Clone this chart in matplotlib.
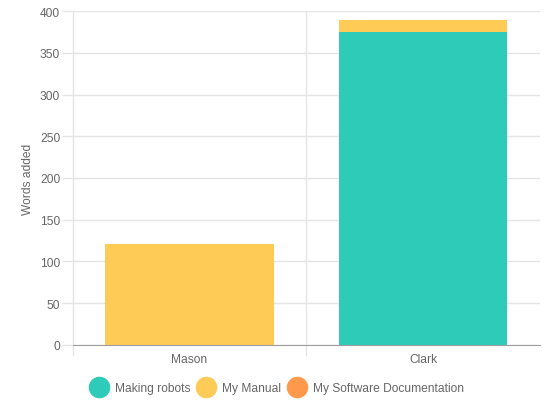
import matplotlib.pyplot as plt
import numpy as np
from matplotlib.lines import Line2D

# data
authors = ['Mason', 'Clark']
series_names = ['Making robots', 'My Manual', 'My Software Documentation']
making_robots = [0, 375]
my_manual = [121, 15]
software_docs = [0, 0]
series_colors = ['#2ECBB8', '#FECB57', '#FF9A4D']

plt.rcParams['font.family'] = ['Liberation Sans', 'DejaVu Sans']
text_color = '#666666'
grid_color = '#E5E5E5'
fs = 8.64  # 12px at 100 dpi

W, H = 546, 406
fig = plt.figure(figsize=(W / 100, H / 100), dpi=100)
left, right, top, bottom = 72.7, 540, 12.3, 345.7
ax = fig.add_axes([left / W, 1 - bottom / H, (right - left) / W, (bottom - top) / H])

x = np.arange(len(authors))
base = np.zeros(len(authors))
for vals, color in zip([making_robots, my_manual, software_docs], series_colors):
    ax.bar(x, vals, width=0.72, bottom=base, color=color, zorder=2)
    base = base + np.array(vals)

ax.set_xlim(-0.5, len(authors) - 0.5)
ax.set_ylim(0, 400)
ax.set_yticks(np.arange(0, 401, 50))
ax.set_xticks(x)
ax.set_xticklabels(authors)

# horizontal grid with tick marks extending left
ax.grid(axis='y', color=grid_color, linewidth=1, zorder=0)
ax.tick_params(axis='y', length=8, color=grid_color, width=1, labelsize=fs,
               labelcolor=text_color, pad=1)
ax.tick_params(axis='x', length=0, labelsize=fs, labelcolor=text_color, pad=6)

# vertical lines at category boundaries, extending below the axis
for b in np.arange(-0.5, len(authors) - 0.5):
    ax.plot([b, b], [0, 400], color=grid_color, linewidth=1, zorder=1, clip_on=False)
    ax.plot([b, b], [0, -12], color=grid_color, linewidth=1, zorder=1, clip_on=False)

for side in ['top', 'right', 'left']:
    ax.spines[side].set_visible(False)
ax.spines['bottom'].set_color('#9E9E9E')
ax.spines['bottom'].set_zorder(3)

ax.set_ylabel('Words added', fontsize=fs, color=text_color, labelpad=4)

handles = [Line2D([0], [0], marker='o', linestyle='none', markersize=14.5,
                  markerfacecolor=c, markeredgecolor=c) for c in series_colors]
fig.legend(handles, series_names, loc='center', bbox_to_anchor=(0.509, 1 - 389 / H),
           ncol=3, frameon=False, fontsize=fs, labelcolor=text_color,
           handlelength=1.2, handletextpad=0.73, columnspacing=0.7)

fig.savefig('out.png', dpi=100)
